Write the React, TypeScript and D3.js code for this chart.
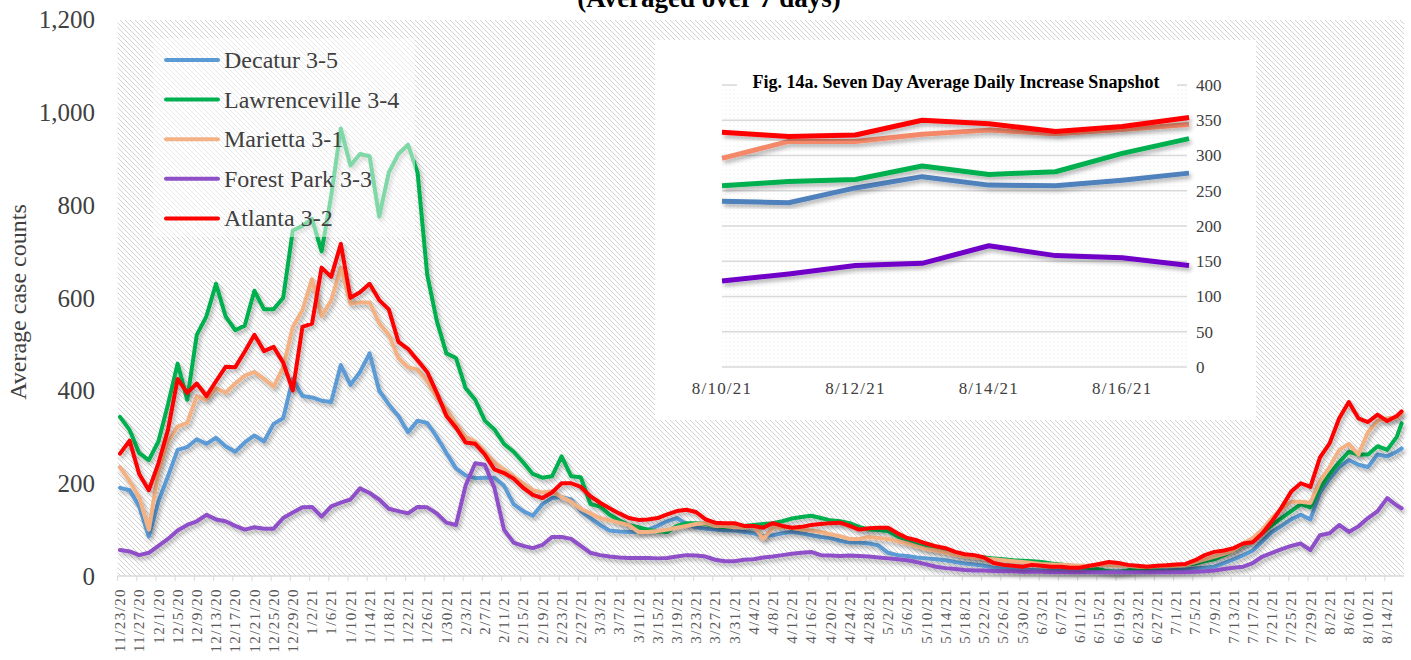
import * as d3 from 'd3'

const startDate = new Date(Date.UTC(2020, 10, 23))
const endDate = new Date(Date.UTC(2021, 7, 17))
const lastLabel = new Date(Date.UTC(2021, 7, 14))

// values are read every other day from 11/23/20, the last one is 8/17/21
const dates = [...d3.utcDay.range(startDate, endDate, 2), endDate]
const tickDates = d3.utcDay.range(startDate, d3.utcDay.offset(lastLabel, 1), 4)

const decatur = [
  190, 185, 150, 85, 160, 215, 272, 278, 295, 285,
  298, 280, 268, 288, 303, 290, 328, 340, 425, 388,
  385, 378, 375, 455, 412, 440, 480, 400, 370, 345,
  310, 335, 330, 300, 265, 232, 217, 211, 212, 212,
  195, 155, 140, 130, 155, 168, 170, 165, 140, 125,
  110, 98, 96, 95, 95, 100, 108, 118, 125, 112,
  105, 102, 100, 98, 98, 95, 92, 86, 88, 92,
  95, 92, 88, 84, 82, 76, 72, 72, 70, 66,
  50, 45, 43, 40, 38, 36, 34, 30, 27, 25,
  22, 18, 16, 14, 13, 13, 12, 12, 11, 10,
  10, 10, 10, 10, 10, 10, 10, 11, 12, 12,
  13, 14, 16, 18, 20, 28, 36, 45, 55, 75,
  95, 108, 122, 132, 122, 180, 210, 235, 250, 240,
  235, 262, 258, 268,
  275,
]
const lawrenceville = [
  343, 315, 265, 250, 290, 370, 458, 380, 520, 560,
  630, 560, 530, 540, 615, 575, 575, 600, 745, 755,
  770, 700, 820, 965, 885, 910, 905, 775, 870, 910,
  930, 870, 650, 550, 480, 470, 405, 380, 335, 316,
  285, 268, 245, 220, 212, 215, 258, 215, 213, 155,
  150, 132, 120, 110, 105, 100, 96, 95, 108, 114,
  114, 112, 108, 105, 108, 108, 110, 112, 114, 118,
  124, 127, 130, 125, 120, 118, 114, 106, 100, 99,
  97, 85, 78, 68, 62, 58, 56, 50, 45, 42,
  40, 38, 36, 34, 33, 32, 30, 27, 25, 22,
  20, 18, 14, 10, 8, 12, 16, 18, 20, 22,
  22, 24, 27, 32, 36, 45, 55, 68, 80, 92,
  110, 125, 140, 155, 148, 190, 220, 245, 268, 262,
  262, 280, 272, 300,
  329,
]
const marietta = [
  235, 205, 170, 100, 225, 290, 322, 330, 388, 380,
  405, 395, 415, 432, 440, 425, 408, 450, 537, 573,
  640, 560, 594, 665, 587, 590, 590, 545, 520, 470,
  450, 445, 420, 385, 360, 329, 300, 290, 268, 245,
  230, 215, 200, 185, 180, 183, 170, 160, 145, 135,
  125, 120, 115, 110, 95, 95, 97, 100, 104, 108,
  112, 114, 108, 108, 105, 105, 108, 80, 104, 106,
  104, 100, 98, 95, 90, 86, 80, 80, 84, 82,
  80, 75, 70, 64, 58, 55, 50, 46, 42, 40,
  38, 36, 34, 32, 30, 28, 26, 25, 24, 23,
  22, 22, 24, 23, 22, 22, 20, 20, 21, 22,
  22, 24, 30, 36, 42, 48, 55, 70, 82, 100,
  125, 145, 160, 160, 158, 205, 235, 272, 285, 262,
  310, 335, 340, 342,
  350,
]
const forestPark = [
  56, 53, 45, 50, 65, 80, 98, 110, 118, 132,
  122, 118, 108, 100, 105, 102, 102, 125, 137, 148,
  149, 128, 150, 158, 165, 189, 179, 165, 145, 140,
  135, 149, 148, 135, 115, 110, 195, 243, 240, 190,
  100, 72, 65, 60, 67, 84, 84, 80, 65, 50,
  45, 42, 40, 39, 39, 39, 38, 39, 42, 45,
  44, 42, 35, 32, 32, 35, 36, 40, 42, 45,
  48, 50, 52, 45, 44, 43, 44, 43, 42, 40,
  38, 36, 34, 30, 25, 20, 17, 15, 13, 12,
  12, 11, 10, 10, 9, 9, 9, 8, 8, 8,
  8, 8, 8, 8, 8, 8, 8, 8, 8, 8,
  8, 8, 9, 10, 12, 15, 18, 20, 28, 42,
  50, 58, 65, 70, 56, 88, 92, 110, 95, 107,
  125, 140, 168, 152,
  146,
]
const atlanta = [
  264, 292, 220, 185, 243, 315, 425, 395, 415, 388,
  420, 451, 450, 484, 520, 485, 494, 460, 400, 537,
  544, 665, 645, 716, 600, 612, 630, 595, 575, 505,
  490, 465, 440, 395, 345, 320, 288, 285, 262, 230,
  222, 210, 190, 175, 168, 180, 200, 200, 192, 172,
  158, 146, 135, 125, 121, 122, 125, 133, 140, 143,
  138, 122, 115, 114, 114, 108, 108, 104, 114, 108,
  104, 106, 110, 112, 114, 115, 108, 100, 103, 104,
  104, 92, 82, 77, 70, 64, 60, 52, 47, 45,
  40, 28, 24, 22, 20, 24, 22, 20, 20, 18,
  18, 22, 26, 30, 28, 24, 22, 20, 22, 23,
  25, 26, 34, 45, 52, 55, 60, 70, 73, 92,
  118, 148, 182, 200, 192, 256, 286, 340, 375, 340,
  332, 348, 334, 345,
  355,
]

const seriesNames = ['Decatur 3-5', 'Lawrenceville 3-4', 'Marietta 3-1', 'Forest Park 3-3', 'Atlanta 3-2']
const seriesValues = [decatur, lawrenceville, marietta, forestPark, atlanta]
const seriesColors = ['#5B9BD5', '#00B050', '#F4B183', '#8E4FC8', '#FF0000']
const yTicks = [0, 200, 400, 600, 800, 1000, 1200]

// inset snapshot
const insetDates = ['8/10/21', '8/11/21', '8/12/21', '8/13/21', '8/14/21', '8/15/21', '8/16/21', '8/17/21']
const insetLabels = ['8/10/21', '8/12/21', '8/14/21', '8/16/21']
const insetDecatur = [235, 233, 254, 270, 258, 257, 265, 275]
const insetLawrenceville = [257, 263, 266, 285, 273, 277, 303, 324]
const insetMarietta = [296, 320, 320, 330, 336, 331, 337, 344]
const insetForestPark = [122, 132, 144, 147, 172, 158, 155, 144]
const insetAtlanta = [333, 327, 329, 350, 345, 334, 341, 354]
const insetValues = [insetDecatur, insetLawrenceville, insetMarietta, insetForestPark, insetAtlanta]
const insetColors = ['#4F81BD', '#00B050', '#F4896B', '#7000C8', '#FF0000']
const insetTicks = [0, 50, 100, 150, 200, 250, 300, 350, 400]

const fmt = d3.utcFormat('%-m/%-d/%y')

export default function App() {
  const x = d3
    .scaleUtc()
    .domain([d3.utcHour.offset(startDate, -12), d3.utcHour.offset(endDate, 12)])
    .range([117.6, 1404])
  const y = d3.scaleLinear().domain([0, 1200]).range([576, 19.5])
  const line = d3
    .line<number>()
    .x((_, i) => x(dates[i]))
    .y((d) => y(d))

  const ix = d3.scalePoint().domain(insetDates).range([722, 1189])
  const iy = d3.scaleLinear().domain([0, 400]).range([367, 85])
  const insetLine = d3
    .line<number>()
    .x((_, i) => ix(insetDates[i]) as number)
    .y((d) => iy(d))

  const [x0, x1] = x.range()
  const band = x(d3.utcDay.offset(startDate, 1)) - x(startDate)

  return (
    <svg
      width={1411}
      height={660}
      style={{ position: 'absolute', left: 0, top: 0 }}
      fontFamily="'Liberation Serif', 'DejaVu Serif', serif"
    >
      <defs>
        <pattern id="hatch" patternUnits="userSpaceOnUse" width={5} height={5}>
          <rect width={5} height={5} fill="#fff" />
          <path d="M-1,-1 L6,6 M-1,4 L1,6 M4,-1 L6,1" stroke="#d2d2d2" strokeWidth={1} />
        </pattern>
        <pattern id="dots" patternUnits="userSpaceOnUse" width={4} height={4}>
          <circle cx={2} cy={2} r={0.7} fill="#ececec" />
        </pattern>
        <filter id="shadow" x="-5%" y="-10%" width="115%" height="130%">
          <feDropShadow dx={2} dy={3} stdDeviation={2} floodColor="#000" floodOpacity={0.3} />
        </filter>
      </defs>

      <rect width={1411} height={660} fill="#fff" />

      {/* title, cut at the top like the source */}
      <text x={709} y={7} textAnchor="middle" fontSize={27} fontWeight="bold" fill="#000">
        (Averaged over 7 days)
      </text>

      {/* plot area */}
      <rect x={x0} y={20} width={x1 - x0} height={556} fill="url(#hatch)" />

      {/* y axis */}
      {yTicks.map((t) => (
        <text key={t} x={95} y={y(t)} dy="0.35em" textAnchor="end" fontSize={25} fill="#404040">
          {d3.format(',')(t)}
        </text>
      ))}
      <text
        transform="translate(26,302) rotate(-90)"
        textAnchor="middle"
        fontSize={24}
        fill="#404040"
      >
        Average case counts
      </text>

      {/* x axis */}
      <line x1={x0} x2={x1} y1={576} y2={576} stroke="#d9d9d9" strokeWidth={1.5} />
      {tickDates.map((d) => (
        <g key={+d}>
          <line
            x1={x(d) - band / 2}
            x2={x(d) - band / 2}
            y1={576}
            y2={581}
            stroke="#d9d9d9"
          />
          <text
            transform={`translate(${x(d)},588) rotate(-90)`}
            dy="0.35em"
            textAnchor="end"
            fontSize={15}
            fill="#595959"
            style={{ letterSpacing: '1.4px' }}
          >
            {fmt(d)}
          </text>
        </g>
      ))}

      {/* lines */}
      {seriesValues.map((vals, k) => (
        <path
          key={seriesNames[k]}
          d={line(vals) ?? ''}
          fill="none"
          stroke={seriesColors[k]}
          strokeWidth={4}
          strokeLinejoin="round"
          strokeLinecap="round"
          filter="url(#shadow)"
        />
      ))}

      {/* legend */}
      <rect x={153} y={38} width={262} height={199} fill="#fff" fillOpacity={0.5} />
      {seriesNames.map((name, k) => {
        const ly = 60 + k * 39.6
        return (
          <g key={name}>
            <line x1={166} x2={218} y1={ly} y2={ly} stroke={seriesColors[k]} strokeWidth={4} strokeLinecap="round" />
            <text x={224} y={ly} dy="0.33em" fontSize={24} fill="#404040">
              {name}
            </text>
          </g>
        )
      })}

      {/* inset chart */}
      <rect x={655} y={40} width={601} height={380} fill="#fff" />
      <rect x={722} y={85} width={467} height={282} fill="url(#dots)" />
      {insetTicks.map((t) => (
        <g key={t}>
          <line x1={722} x2={1187} y1={iy(t)} y2={iy(t)} stroke="#d9d9d9" strokeWidth={1.5} />
          <text x={1196} y={iy(t)} dy="0.35em" fontSize={17} fill="#404040">
            {t}
          </text>
        </g>
      ))}
      <rect x={737} y={69} width={440} height={25} fill="#fff" />
      <text x={956} y={88} textAnchor="middle" fontSize={18} fontWeight="bold" fill="#000">
        Fig. 14a. Seven Day Average Daily Increase Snapshot
      </text>
      {insetLabels.map((d) => (
        <text
          key={d}
          x={ix(d) as number}
          y={388}
          dy="0.35em"
          textAnchor="middle"
          fontSize={17}
          fill="#404040"
          style={{ letterSpacing: '1.2px' }}
        >
          {d}
        </text>
      ))}
      {insetValues.map((vals, k) => (
        <path
          key={k}
          d={insetLine(vals) ?? ''}
          fill="none"
          stroke={insetColors[k]}
          strokeWidth={5}
          strokeLinejoin="round"
          filter="url(#shadow)"
        />
      ))}
    </svg>
  )
}
